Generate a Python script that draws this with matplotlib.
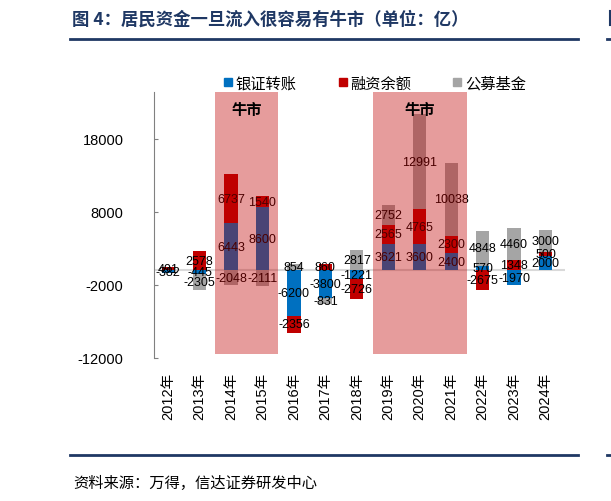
import numpy as np
import matplotlib
matplotlib.use("Agg")
import matplotlib.pyplot as plt
from matplotlib.lines import Line2D

plt.rcParams['font.family'] = ['Liberation Sans', 'Noto Sans CJK SC', 'DejaVu Sans']
plt.rcParams['axes.unicode_minus'] = False

# data (亿)
years = ['2012年', '2013年', '2014年', '2015年', '2016年', '2017年', '2018年',
         '2019年', '2020年', '2021年', '2022年', '2023年', '2024年']
bank_transfer = [-382, -445, 6443, 8600, -6200, -3800, -1221, 3621, 3600, 2400, 570, -1970, 2000]
margin = [491, 2578, 6737, 1540, -2356, 860, -2726, 2565, 4765, 2300, -2675, 1348, 500]
funds = [0, -2305, -2048, -2111, 854, -831, 2817, 2752, 12991, 10038, 4848, 4460, 3000]
series_names = ['银证转账', '融资余额', '公募基金']
colors = ['#0070C0', '#C00000', '#A5A5A5']
bull_periods = [(1.5, 3.5), (6.5, 9.5)]

navy = '#1F3864'

fig = plt.figure(figsize=(6.11, 5.02), dpi=100)
ax = fig.add_axes([154 / 611, 1 - 359 / 502, (565 - 154) / 611, (359 - 93) / 502])

x = np.arange(len(years))
w = 0.42
pos_base = np.zeros(len(years))
neg_base = np.zeros(len(years))
for vals, c in zip([bank_transfer, margin, funds], colors):
    vals = np.array(vals, dtype=float)
    bottoms = np.where(vals >= 0, pos_base, neg_base)
    ax.bar(x, vals, w, bottom=bottoms, color=c, zorder=2)
    for xi, v, b in zip(x, vals, bottoms):
        if v != 0:
            ax.text(xi, b + v / 2, str(int(v)), ha='center', va='center',
                    fontsize=9, color='black', zorder=3)
    pos_base = pos_base + np.where(vals > 0, vals, 0)
    neg_base = neg_base + np.where(vals < 0, vals, 0)

# bull market shading on top of the bars
for a, b in bull_periods:
    ax.bar((a + b) / 2, 24400 + 11500, b - a, bottom=-11500, color='#BF0000',
           alpha=0.39, linewidth=0, zorder=4)
    ax.text((a + b) / 2, 22100, '牛市', ha='center', va='center', fontsize=11,
            fontweight='bold', family=['Noto Sans CJK SC'], zorder=5)

ax.axhline(0, color='#D9D9D9', linewidth=1.5, zorder=1)

ax.set_xlim(-0.45, 12.62)
ax.set_ylim(-12000, 24400)
ax.set_yticks([-12000, -2000, 8000, 18000])
ax.set_xticks(x)
ax.set_xticklabels(years, rotation=90, fontsize=10.5)
ax.tick_params(axis='y', direction='in', length=3, color='#808080', labelsize=10.5, pad=22)
ax.tick_params(axis='x', length=0, pad=10)
for s in ['top', 'right', 'bottom']:
    ax.spines[s].set_visible(False)
ax.spines['left'].set_color('#808080')
for lbl in ax.get_yticklabels():
    lbl.set_horizontalalignment('right')

handles = [Line2D([], [], marker='s', linestyle='', color=c, markersize=6) for c in colors]
fig.legend(handles, series_names, loc='center', bbox_to_anchor=(0.612, 0.833), ncol=3,
           frameon=False, fontsize=11, handletextpad=0.1, columnspacing=2.6,
           handlelength=0.8, prop={'family': ['Noto Sans CJK SC'], 'size': 11})

# title, rules and source
fig.text(72 / 611, 1 - 20 / 502, '图 4：居民资金一旦流入很容易有牛市（单位：亿）', fontsize=12.5,
         fontweight='bold', color=navy, va='center', family=['Noto Sans CJK SC'])
for yy in [40, 456]:
    fig.add_artist(Line2D([70 / 611, 578 / 611], [1 - yy / 502] * 2, color=navy, linewidth=2))
    fig.add_artist(Line2D([607 / 611, 1.0], [1 - yy / 502] * 2, color=navy, linewidth=2))
fig.add_artist(Line2D([609.5 / 611] * 2, [1 - 12 / 502, 1 - 26 / 502], color=navy, linewidth=1.5))
fig.text(73 / 611, 1 - 483 / 502, '资料来源：万得，信达证券研发中心', fontsize=11, style='italic',
         va='center', family=['Noto Sans CJK SC'])

fig.savefig('out.png', dpi=100)
